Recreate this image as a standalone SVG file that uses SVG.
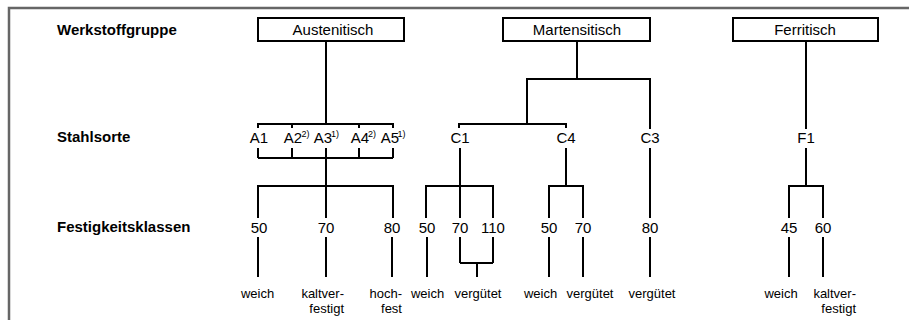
<svg xmlns="http://www.w3.org/2000/svg" width="909" height="320" viewBox="0 0 909 320">
<style>
.frame{fill:none;stroke:#666;stroke-width:2.5}
.box{fill:#fff;stroke:#000;stroke-width:2}
.ln{fill:none;stroke:#000;stroke-width:2;stroke-linecap:butt}
.hd{font-family:"Liberation Sans",Arial,sans-serif;font-weight:bold;font-size:15px;fill:#000}
.t{font-family:"Liberation Sans",Arial,sans-serif;font-size:15px;fill:#000;text-anchor:middle}
.s{font-family:"Liberation Sans",Arial,sans-serif;font-size:13px;fill:#000;text-anchor:middle}
.r{text-anchor:end}
.sup{font-size:9px}
</style>
<rect width="909" height="320" fill="#fff"/>
<path class="frame" d="M9,322 V8 H911"/>
<g id="headings">
<text class="hd" x="57" y="35">Werkstoffgruppe</text>
<text class="hd" x="57" y="142">Stahlsorte</text>
<text class="hd" x="57" y="232">Festigkeitsklassen</text>
</g>
<g id="connectors">
<!-- Austenitisch -->
<path class="ln" d="M326,41 V124 M258,124 H393 M258,123 V128 M292,124 V128 M359,124 V128 M393,123 V128"/>
<path class="ln" d="M258,148 V158 M292,148 V158 M359,148 V158 M393,148 V158 M258,158 H393 M326,148 V186"/>
<path class="ln" d="M258,186 H393 M258,185 V218 M326,186 V218 M393,185 V218"/>
<path class="ln" d="M258,237 V277 M326,237 V277 M392,237 V277"/>
<!-- Martensitisch -->
<path class="ln" d="M577,41 V79 M527,79 H650 M527,78 V124 M650,78 V129"/>
<path class="ln" d="M459,124 H566 M459,123 V128 M566,123 V128"/>
<path class="ln" d="M460,148 V186 M426,186 H493 M426,185 V218 M460,186 V218 M493,185 V218"/>
<path class="ln" d="M566,148 V186 M549,186 H583 M549,185 V218 M583,185 V218"/>
<path class="ln" d="M650,148 V218"/>
<path class="ln" d="M427,237 V277 M460,237 V263 M493,237 V263 M460,263 H493 M477,263 V277"/>
<path class="ln" d="M549,237 V277 M583,237 V277 M650,237 V277"/>
<!-- Ferritisch -->
<path class="ln" d="M806,41 V129 M806,148 V186 M789,186 H823 M789,185 V218 M823,185 V218"/>
<path class="ln" d="M789,237 V277 M823,237 V277"/>
</g>
<g id="austenitisch">
<rect class="box" x="258" y="18" width="146" height="23"/>
<text class="t" x="333" y="35">Austenitisch</text>
</g>
<g id="martensitisch">
<rect class="box" x="503" y="18" width="147" height="23"/>
<text class="t" x="577" y="35">Martensitisch</text>
</g>
<g id="ferritisch">
<rect class="box" x="733" y="18" width="145" height="23"/>
<text class="t" x="805" y="35">Ferritisch</text>
</g>
<g id="stahlsorten">
<text class="t" x="259" y="143">A1</text>
<text class="t" x="293" y="143">A2</text><text class="t sup" x="305.5" y="137">2)</text>
<text class="t" x="323" y="143">A3</text><text class="t sup" x="335" y="137">1)</text>
<text class="t" x="360" y="143">A4</text><text class="t sup" x="372" y="137">2)</text>
<text class="t" x="390" y="143">A5</text><text class="t sup" x="401.5" y="137">1)</text>
<text class="t" x="460" y="143">C1</text>
<text class="t" x="566" y="143">C4</text>
<text class="t" x="650" y="143">C3</text>
<text class="t" x="806" y="143">F1</text>
</g>
<g id="festigkeitsklassen">
<text class="t" x="259" y="233">50</text>
<text class="t" x="326" y="233">70</text>
<text class="t" x="392" y="233">80</text>
<text class="t" x="427" y="233">50</text>
<text class="t" x="460" y="233">70</text>
<text class="t" x="493" y="233">110</text>
<text class="t" x="549" y="233">50</text>
<text class="t" x="583" y="233">70</text>
<text class="t" x="650" y="233">80</text>
<text class="t" x="789" y="233">45</text>
<text class="t" x="823" y="233">60</text>
</g>
<g id="zustand">
<text class="s" x="257.5" y="298">weich</text>
<text class="s r" x="344" y="298">kaltver-</text>
<text class="s r" x="344" y="313">festigt</text>
<text class="s r" x="402" y="298">hoch-</text>
<text class="s r" x="402" y="313">fest</text>
<text class="s" x="427.5" y="298">weich</text>
<text class="s" x="478" y="298">vergütet</text>
<text class="s" x="540.5" y="298">weich</text>
<text class="s" x="590" y="298">vergütet</text>
<text class="s" x="652" y="298">vergütet</text>
<text class="s" x="781" y="298">weich</text>
<text class="s r" x="856" y="298">kaltver-</text>
<text class="s r" x="856" y="313">festigt</text>
</g>
</svg>
